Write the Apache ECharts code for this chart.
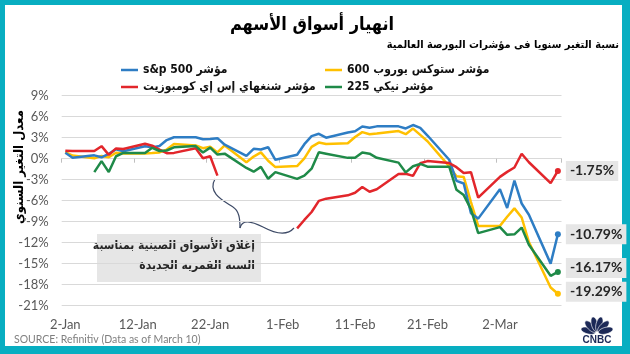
<!DOCTYPE html>
<html><head><meta charset="utf-8">
<script src="https://cdn.jsdelivr.net/npm/echarts@6/dist/echarts.min.js"></script>
<style>html,body{margin:0;padding:0;background:#fff}#c{width:630px;height:354px}</style>
</head><body><div id="c"></div>
<script>
// ---------- DATA ----------
const tradingDays = ['2-Jan','3-Jan','6-Jan','7-Jan','8-Jan','9-Jan','10-Jan','13-Jan','14-Jan','15-Jan','16-Jan','17-Jan','20-Jan','21-Jan','22-Jan','23-Jan','24-Jan','27-Jan','28-Jan','29-Jan','30-Jan','31-Jan',
 '3-Feb','4-Feb','5-Feb','6-Feb','7-Feb','10-Feb','11-Feb','12-Feb','13-Feb','14-Feb','17-Feb','18-Feb','19-Feb','20-Feb','21-Feb','24-Feb','25-Feb','26-Feb','27-Feb','28-Feb',
 '2-Mar','3-Mar','4-Mar','5-Mar','6-Mar','9-Mar','10-Mar'];

const sp500 = [0.84,0.13,0.48,0.20,0.69,1.36,1.07,1.78,1.62,1.81,2.66,3.06,3.06,2.79,2.82,2.93,2.00,0.40,1.41,1.32,1.64,-0.16,
 0.56,2.07,3.22,3.56,3.00,3.75,3.93,4.60,4.43,4.62,4.62,4.32,4.81,4.41,3.31,-0.15,-3.17,-3.54,-7.80,-8.56,
 -4.35,-7.04,-3.12,-6.40,-8.00,-14.99,-10.79];

const stoxx600 = [0.94,0.45,0.05,0.40,0.20,0.85,0.75,0.75,0.80,0.90,1.30,2.10,1.90,1.50,1.70,0.90,1.90,-0.50,0.30,0.90,-0.30,-1.20,
 -1.05,0.05,1.70,2.30,2.10,2.20,3.10,3.80,3.50,3.60,3.95,3.50,4.30,3.40,2.50,-1.10,-2.50,-2.60,-6.20,-9.60,
 -9.60,-8.30,-7.10,-8.40,-11.90,-18.40,-19.29];

const shanghai = [1.15,1.10,1.09,1.79,0.55,1.47,1.38,2.14,1.86,1.31,0.79,0.83,1.50,0.07,0.35,-2.41,null,null,null,null,null,null,
 -9.95,-8.75,-7.61,-6.02,-5.71,-5.23,-4.87,-4.04,-4.72,-4.36,-2.18,-2.14,-2.45,-0.65,-0.34,-0.62,-1.21,-2.04,-1.93,-5.57,
 -2.60,-1.88,-1.26,0.71,-0.51,-3.50,-1.75];

const nikkei = [null,null,-1.91,-0.34,-1.91,0.35,0.82,0.82,1.56,1.10,1.17,1.63,1.80,0.88,1.58,0.59,0.72,-1.32,-1.86,-1.17,-2.87,-1.91,
 -2.89,-2.42,-1.42,0.92,0.72,0.12,0.12,0.87,0.72,0.13,-0.56,-1.96,-1.08,-0.75,-1.14,-1.14,-4.44,-5.20,-7.22,-10.63,
 -9.77,-10.88,-10.81,-9.84,-12.29,-16.73,-16.17];

const yTicks = {min:-21, max:9, step:3};
const monthNames = ['Jan','Feb','Mar'];
const calendarDays = [];
for (let t = Date.UTC(2020,0,2); t <= Date.UTC(2020,2,10); t += 86400000) {
  const d = new Date(t); calendarDays.push(d.getUTCDate() + '-' + monthNames[d.getUTCMonth()]);
}

const N_SP = '\u202Bمؤشر s&p 500\u202C';
const N_STOXX = 'مؤشر ستوكس يوروب 600';
const N_SH = 'مؤشر شنغهاي إس إي كومبوزيت';
const N_NK = 'مؤشر نيكي 225';

const titleText = 'انهيار أسواق الأسهم';
const subtitleText = 'نسبة التغير سنويا فى مؤشرات البورصة العالمية';
const yName = 'معدل التغير السنوي';
const noteLines = ['إغلاق الأسواق الصينية بمناسبة', 'السنة القمرية الجديدة'];
const sourceText = 'SOURCE: Refinitiv (Data as of March 10)';

// ---------- CHART ----------
const LABEL_FONT = 'Lato';
const AR = '"DejaVu Sans Condensed", "DejaVu Sans"';
function mk(name, vals, color, offY, z) {
  const data = tradingDays.map((d, i) => vals[i] === null ? [d, '-'] : [d, vals[i]]);
  const last = data.length - 1;
  data[last] = {
    value: data[last], symbolSize: 6,
    label: {
      show: true, position: 'right', distance: 5, offset: [0, offY],
      formatter: p => p.value[1].toFixed(2) + '%',
      backgroundColor: '#e6e6e6', padding: [4, 4, 2, 4],
      color: '#262626', fontSize: 14, fontWeight: 'bold', fontFamily: LABEL_FONT
    }
  };
  return {
    type: 'line', name, data, xAxisIndex: 0, yAxisIndex: 0,
    symbol: 'circle', symbolSize: 0, showSymbol: true,
    lineStyle: { color, width: 2.5 }, itemStyle: { color },
    emphasis: { disabled: true }, z
  };
}

const legendCommon = {
  padding: 0, itemWidth: 17, itemHeight: 2.5, icon: 'rect', selectedMode: false, itemGap: 4,
  textStyle: { fontFamily: AR, fontWeight: 'bold', fontSize: 12, color: '#111', lineHeight: 16 }
};

const graphics = [
  { type: 'rect', z: -100, silent: true, shape: { x: 0, y: 0, width: 630, height: 354 }, style: { fill: '#08AEC1' } },
  { type: 'rect', z: -99, silent: true, shape: { x: 5, y: 5, width: 617, height: 341 }, style: { fill: '#ffffff' } },
  { type: 'text', x: 312, y: 25, style: { text: titleText, font: 'bold 18px ' + AR, fill: '#000', align: 'center', verticalAlign: 'middle', textAlign: 'center', textVerticalAlign: 'middle' } },
  { type: 'text', x: 619, y: 45, style: { text: subtitleText, font: 'bold 11px ' + AR, fill: '#000', align: 'right', verticalAlign: 'middle', textAlign: 'right', textVerticalAlign: 'middle' } },
  { type: 'text', x: 20, y: 167, rotation: Math.PI / 2, style: { text: yName, font: 'bold 13px ' + AR, fill: '#000', align: 'center', verticalAlign: 'middle', textAlign: 'center', textVerticalAlign: 'middle' } },
  { type: 'rect', shape: { x: 97, y: 234, width: 164, height: 48 }, style: { fill: '#e6e6e6' } },
  { type: 'text', x: 255, y: 246, style: { text: noteLines[0], font: 'bold 12px ' + AR, fill: '#262626', align: 'right', verticalAlign: 'middle', textAlign: 'right', textVerticalAlign: 'middle' } },
  { type: 'text', x: 255, y: 265.5, style: { text: noteLines[1], font: 'bold 12px ' + AR, fill: '#262626', align: 'right', verticalAlign: 'middle', textAlign: 'right', textVerticalAlign: 'middle' } },
  { type: 'bezierCurve', shape: { x1: 215, y1: 179, cpx1: 207, cpy1: 193, cpx2: 224, cpy2: 201, x2: 233, y2: 207 }, style: { stroke: '#3d4a66', lineWidth: 1.2, fill: null } },
  { type: 'bezierCurve', shape: { x1: 233, y1: 207, cpx1: 239, cpy1: 211, cpx2: 240, cpy2: 218, x2: 240, y2: 228 }, style: { stroke: '#3d4a66', lineWidth: 1.2, fill: null } },
  { type: 'bezierCurve', shape: { x1: 240, y1: 228, cpx1: 242, cpy1: 219, cpx2: 251, cpy2: 221, x2: 263, y2: 227 }, style: { stroke: '#3d4a66', lineWidth: 1.2, fill: null } },
  { type: 'bezierCurve', shape: { x1: 263, y1: 227, cpx1: 276, cpy1: 234, cpx2: 287, cpy2: 236, x2: 294, y2: 228 }, style: { stroke: '#3d4a66', lineWidth: 1.2, fill: null } },
  { type: 'text', x: 14, y: 340, style: { text: sourceText, font: '10.5px Lato', fill: '#7f7f7f', align: 'left', verticalAlign: 'middle', textAlign: 'left', textVerticalAlign: 'middle' } },
  { type: 'text', x: 597, y: 340, style: { text: 'CNBC', font: 'bold 10px "Liberation Sans"', fill: '#1c2957', align: 'center', verticalAlign: 'middle', textAlign: 'center', textVerticalAlign: 'middle' } }
];
// CNBC peacock feathers
[-75, -45, -15, 15, 45, 75].forEach(a => {
  const r = a * Math.PI / 180;
  graphics.push({ type: 'ellipse', x: 597 + Math.sin(r) * 9, y: 333 - Math.cos(r) * 9, rotation: -r,
    shape: { cx: 0, cy: 0, rx: 3.3, ry: 7.5 }, style: { fill: '#1c2957', stroke: '#fff', lineWidth: 0.6 } });
});

const option = {
  animation: false,
  grid: { left: 61.7, right: 68.5, top: 95.7, bottom: 48.3 },
  xAxis: [
    { type: 'category', data: calendarDays, boundaryGap: true,
      axisLine: { show: false, onZero: false }, axisTick: { show: false }, splitLine: { show: false },
      axisLabel: { interval: 9, color: '#595959', fontSize: 13, fontFamily: LABEL_FONT, margin: 13 } },
    { type: 'category', data: calendarDays, boundaryGap: true, position: 'top',
      axisLine: { show: true, onZero: true, lineStyle: { color: '#d9d9d9', width: 1 } },
      axisTick: { show: true, interval: 9, inside: true, length: 4, lineStyle: { color: '#bfbfbf' } },
      axisLabel: { show: false }, splitLine: { show: false } }
  ],
  yAxis: {
    type: 'value', min: yTicks.min, max: yTicks.max, interval: yTicks.step,
    axisLine: { show: false }, axisTick: { show: false },
    splitLine: { lineStyle: { color: '#d9d9d9', width: 1 } },
    axisLabel: { formatter: v => v + '%', color: '#595959', fontSize: 13, fontFamily: LABEL_FONT, margin: 13 }
  },
  legend: [
    Object.assign({ data: [N_SP], left: 121, top: 62 }, legendCommon),
    Object.assign({ data: [N_STOXX], left: 325, top: 62 }, legendCommon),
    Object.assign({ data: [N_SH], left: 121, top: 79 }, legendCommon),
    Object.assign({ data: [N_NK], left: 325, top: 79 }, legendCommon)
  ],
  graphic: { elements: graphics },
  series: [
    mk(N_SP, sp500, '#2E7DC4', 0, 4),
    mk(N_STOXX, stoxx600, '#FFC000', -2, 3),
    mk(N_SH, shanghai, '#E2262B', 0, 5),
    mk(N_NK, nikkei, '#1F8A48', -4, 6)
  ]
};
const chart = echarts.init(document.getElementById('c'), null, { renderer: 'canvas' });
chart.setOption(option);
</script></body></html>
